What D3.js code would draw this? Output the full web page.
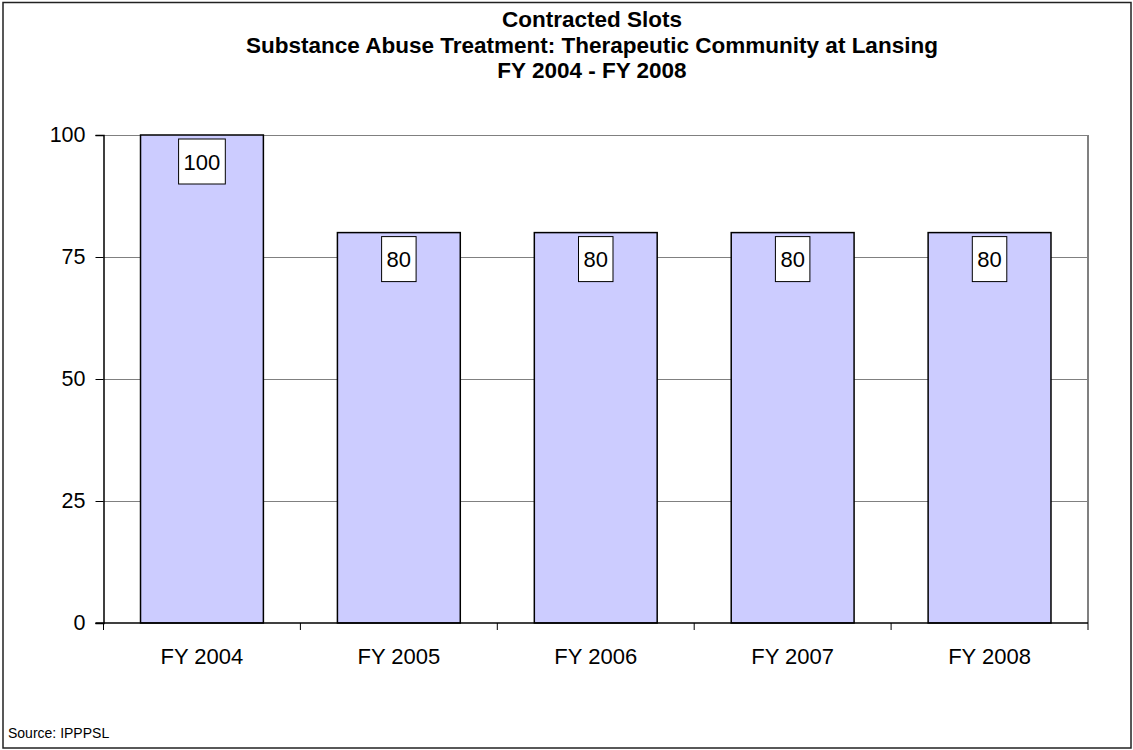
<!DOCTYPE html>
<html>
<head>
<meta charset="utf-8">
<script src="https://cdn.jsdelivr.net/npm/d3@7"></script>
<style>
  html, body { margin: 0; padding: 0; background: #fff; }
  svg { display: block; font-family: "Liberation Sans", Arial, sans-serif; }
</style>
</head>
<body>
<svg id="chart" width="1133" height="750"></svg>
<script>
// Contracted treatment slots per fiscal year
const categories = ["FY 2004", "FY 2005", "FY 2006", "FY 2007", "FY 2008"];
const slots = [100, 80, 80, 80, 80];
const yTicks = [0, 25, 50, 75, 100];
const titleLines = [
  "Contracted Slots",
  "Substance Abuse Treatment: Therapeutic Community at Lansing",
  "FY 2004 - FY 2008"
];
const sourceNote = "Source: IPPPSL";

const svg = d3.select("#chart");
const plot = { left: 103.5, right: 1088, top: 135, bottom: 623 };

// outer chart frame
svg.append("rect")
  .attr("x", 3).attr("y", 2.5)
  .attr("width", 1128).attr("height", 745.5)
  .attr("fill", "#fff").attr("stroke", "#222").attr("stroke-width", 1.5);

// titles
svg.append("g").selectAll("text").data(titleLines).join("text")
  .attr("x", 592).attr("y", (d, i) => 27 + i * 25.5)
  .attr("text-anchor", "middle")
  .attr("font-size", 22.5).attr("font-weight", "bold")
  .attr("fill", "#000")
  .text(d => d);

const x = d3.scaleBand().domain(categories)
  .range([plot.left, plot.right]).paddingInner(0.376).paddingOuter(0.188);
const y = d3.scaleLinear().domain([0, 100]).range([plot.bottom, plot.top]);

// horizontal gridlines
svg.append("g").selectAll("line").data(yTicks.filter(t => t > 0)).join("line")
  .attr("x1", plot.left).attr("x2", plot.right)
  .attr("y1", d => y(d) + 0.5).attr("y2", d => y(d) + 0.5)
  .attr("stroke", "#808080").attr("stroke-width", 1);

// right border of plot area
svg.append("line")
  .attr("x1", plot.right).attr("x2", plot.right)
  .attr("y1", plot.top).attr("y2", plot.bottom)
  .attr("stroke", "#808080").attr("stroke-width", 2);

// bars
svg.append("g").selectAll("rect").data(slots).join("rect")
  .attr("x", (d, i) => x(categories[i]))
  .attr("y", d => y(d))
  .attr("width", x.bandwidth())
  .attr("height", d => y(0) - y(d))
  .attr("fill", "#ccccff")
  .attr("stroke", "#000").attr("stroke-width", 1.5);

// y axis
const yAxis = svg.append("g")
  .attr("transform", `translate(${plot.left},0)`)
  .call(d3.axisLeft(y).tickValues(yTicks).tickSize(8).tickPadding(10));
yAxis.select(".domain").attr("stroke", "#000").attr("stroke-width", 1.5);
yAxis.selectAll(".tick line").attr("stroke", "#000").attr("stroke-width", 1);
yAxis.selectAll(".tick text")
  .attr("font-size", 21.5).attr("font-family", "Liberation Sans, Arial, sans-serif")
  .attr("fill", "#000");

// x axis: category labels with ticks at the band boundaries
const xAxis = svg.append("g").attr("transform", `translate(0,${plot.bottom})`);
xAxis.append("line")
  .attr("x1", plot.left - 8).attr("x2", plot.right)
  .attr("y1", 0).attr("y2", 0)
  .attr("stroke", "#000").attr("stroke-width", 1.5);
const step = x.step();
const boundaries = d3.range(categories.length + 1).map(i => plot.left + i * step);
xAxis.selectAll("line.tk").data(boundaries).join("line")
  .attr("class", "tk")
  .attr("x1", d => d).attr("x2", d => d)
  .attr("y1", 0).attr("y2", 7)
  .attr("stroke", "#000").attr("stroke-width", 1);
xAxis.selectAll("text").data(categories).join("text")
  .attr("x", d => x(d) + x.bandwidth() / 2)
  .attr("y", 41)
  .attr("text-anchor", "middle")
  .attr("font-size", 22).attr("fill", "#000")
  .text(d => d);

// value labels in white boxes just inside the bar tops
const labels = svg.append("g").selectAll("g").data(slots).join("g");
labels.each(function (d, i) {
  const g = d3.select(this);
  const cx = x(categories[i]) + x.bandwidth() / 2;
  const top = y(d) + 4;
  const t = g.append("text")
    .attr("x", cx).attr("y", top + 23)
    .attr("text-anchor", "middle").attr("dominant-baseline", "central")
    .attr("font-size", 22).attr("fill", "#000")
    .text(d);
  const w = t.node().getComputedTextLength() + 10;
  g.insert("rect", "text")
    .attr("x", cx - w / 2).attr("y", top)
    .attr("width", w).attr("height", 45)
    .attr("fill", "#fff").attr("stroke", "#000").attr("stroke-width", 1);
});

// source note
svg.append("text")
  .attr("x", 8).attr("y", 738)
  .attr("font-size", 14).attr("fill", "#000")
  .text(sourceNote);
</script>
</body>
</html>
